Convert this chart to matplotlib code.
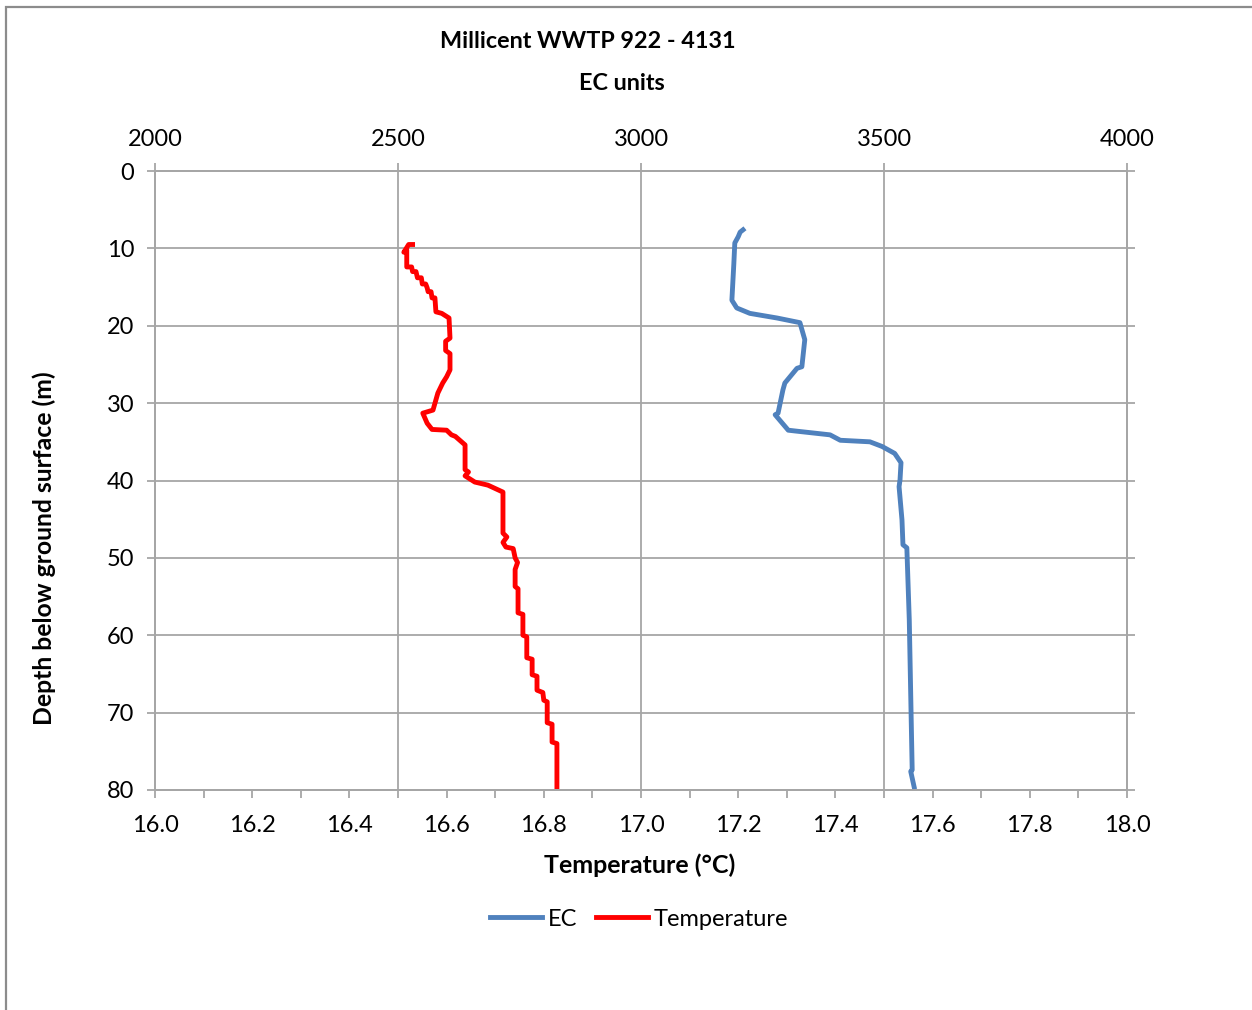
import matplotlib
matplotlib.use('Agg')
import matplotlib.pyplot as plt
from matplotlib.lines import Line2D
from matplotlib.patches import Rectangle
import numpy as np

plt.rcParams['font.family'] = ['Lato', 'DejaVu Sans']

# Temperature log (depth in m, temperature in deg C)
temp_depth = [9.5, 9.5, 10.5, 10.2, 12.4, 12.4, 13.0, 13.0, 13.8, 13.8, 14.6, 14.6, 15.1,
              15.6, 15.6, 16.4, 16.4, 18.2, 18.4, 19.0, 21.6, 22.0, 23.2, 23.6, 25.7, 26.6,
              27.4, 28.7, 30.9, 31.3, 32.6, 33.4, 33.5, 34.1, 34.3, 35.4, 38.6, 38.9, 39.4,
              40.2, 40.6, 41.5, 46.8, 47.3, 48.0, 48.6, 48.8, 50.0, 50.6, 51.5, 53.7, 54.0,
              57.1, 57.3, 60.0, 60.2, 62.9, 63.1, 65.1, 65.3, 67.1, 67.4, 68.4, 68.6, 71.3,
              71.5, 73.8, 74.0, 79.6]
temp_vals = [16.530, 16.522, 16.512, 16.518, 16.518, 16.528, 16.530, 16.537, 16.540, 16.548, 16.550, 16.557, 16.560,
             16.562, 16.568, 16.570, 16.576, 16.578, 16.590, 16.605, 16.607, 16.598, 16.598, 16.607, 16.607, 16.600,
             16.592, 16.582, 16.572, 16.551, 16.560, 16.570, 16.600, 16.610, 16.618, 16.638, 16.638, 16.645, 16.638,
             16.658, 16.685, 16.716, 16.716, 16.724, 16.716, 16.722, 16.737, 16.741, 16.746, 16.741, 16.741, 16.747,
             16.747, 16.757, 16.757, 16.765, 16.765, 16.776, 16.776, 16.786, 16.786, 16.798, 16.800, 16.807, 16.807,
             16.817, 16.817, 16.827, 16.827]

# EC log (depth in m, EC units)
ec_depth = [7.6, 7.9, 8.5, 9.3, 12.0, 16.7, 17.7, 18.4, 19.0, 19.6, 21.8, 25.3, 25.5,
            27.4, 28.3, 31.3, 31.5, 33.5, 33.6, 34.1, 34.8, 35.0, 35.6, 36.5, 37.7,
            39.9, 40.8, 45.1, 48.3, 48.7, 58.0, 71.0, 77.4, 77.6, 79.6]
ec_vals = [3210, 3204, 3200, 3193, 3191, 3187, 3197, 3224, 3280, 3327, 3337, 3331, 3321,
           3296, 3292, 3282, 3276, 3303, 3317, 3389, 3410, 3471, 3496, 3522, 3535,
           3533, 3531, 3537, 3539, 3547, 3552, 3556, 3558, 3555, 3562]

grid_col = '#A6A6A6'
tick_len = 6

fig = plt.figure(figsize=(12.52, 10.10), dpi=100)
fig.patches.append(Rectangle((0.005, -0.02), 1.1, 1.013, transform=fig.transFigure,
                             fill=False, edgecolor='#8C8C8C', linewidth=1.6))

ax = fig.add_axes([155 / 1252, 1 - 790 / 1010, 972 / 1252, 619 / 1010])
ax2 = ax.twiny()

ax.plot(temp_vals, temp_depth, color='#FF0000', linewidth=3.5, solid_joinstyle='round')
ax2.plot(ec_vals, ec_depth, color='#4F81BD', linewidth=3.5, solid_joinstyle='round')

ax.set_xlim(16.0, 18.0)
ax.set_ylim(80, 0)
ax2.set_xlim(2000, 4000)

ax.set_xticks(np.arange(16.0, 18.01, 0.2))
ax.set_xticklabels(['%.1f' % v for v in np.arange(16.0, 18.01, 0.2)])
ax.set_xticks(np.arange(16.1, 18.0, 0.2), minor=True)
ax.set_yticks(np.arange(0, 81, 10))
ax2.set_xticks(np.arange(2000, 4001, 500))

ax.grid(axis='y', color=grid_col, linewidth=1.3)
ax2.grid(axis='x', color=grid_col, linewidth=1.3)
ax.set_axisbelow(True)

for a in (ax, ax2):
    for s in a.spines.values():
        s.set_color(grid_col)
        s.set_linewidth(1.3)

ax.tick_params(axis='x', which='both', direction='out', length=tick_len, width=1.3,
               color=grid_col, labelsize=17, pad=12)
ax.tick_params(axis='y', direction='out', length=tick_len, width=1.3, color=grid_col,
               labelsize=17, pad=9, right=True)
ax2.tick_params(axis='x', direction='out', length=tick_len, width=1.3, color=grid_col,
                labelsize=17, pad=9)

# titles and axis labels
fig.text(588 / 1252, 1 - 41 / 1010, 'Millicent WWTP 922 - 4131', ha='center', va='center',
         fontsize=16.8, fontweight='bold')
fig.text(622 / 1252, 1 - 83 / 1010, 'EC units', ha='center', va='center',
         fontsize=16.8, fontweight='bold')
fig.text(640 / 1252, 1 - 865 / 1010, 'Temperature (\u00b0C)', ha='center', va='center',
         fontsize=18, fontweight='bold')
fig.text(44 / 1252, 1 - 548 / 1010, 'Depth below ground surface (m)', ha='center', va='center',
         rotation=90, fontsize=17.8, fontweight='bold')

handles = [Line2D([], [], color='#4F81BD', linewidth=3.5),
           Line2D([], [], color='#FF0000', linewidth=3.5)]
fig.legend(handles, ['EC', 'Temperature'], loc='center', bbox_to_anchor=(639 / 1252, 1 - 919 / 1010),
           ncol=2, frameon=False, fontsize=17, handlelength=2.2, handletextpad=0.25,
           columnspacing=0.8)

fig.savefig('out.png', dpi=100)
